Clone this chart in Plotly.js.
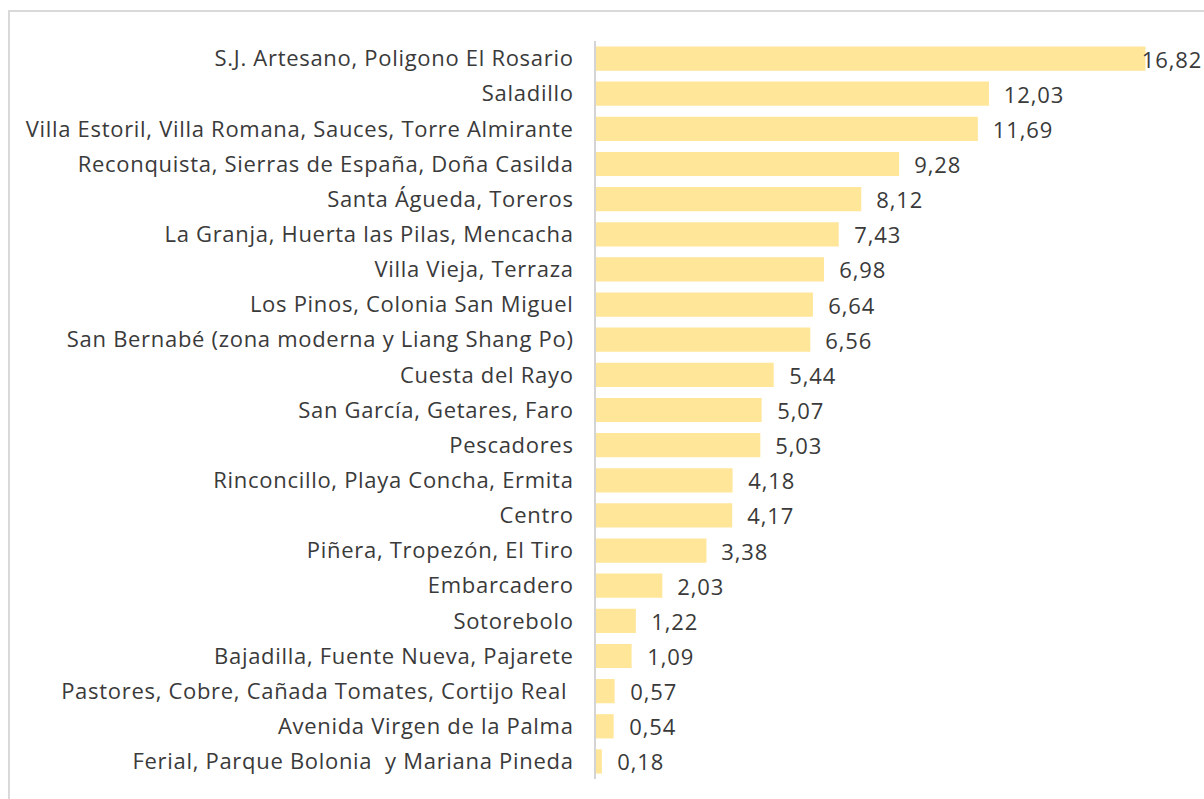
<!DOCTYPE html>
<html>
<head>
<meta charset="utf-8">
<script src="https://cdn.plot.ly/plotly-3.0.1.min.js"></script>
<style>
html,body{margin:0;padding:0;background:#fff;}
#chart{width:1204px;height:799px;position:absolute;left:0;top:0;}
#frame{position:absolute;left:8px;top:10px;width:1300px;height:900px;border:2px solid #d9d9d9;pointer-events:none;}
#chart .ytick text{letter-spacing:0.7px;}
#chart .annotation-text{letter-spacing:0.9px;}
</style>
</head>
<body>
<div id="chart"></div>
<div id="frame"></div>
<script>
const categories = [
  "S.J. Artesano, Poligono El Rosario",
  "Saladillo",
  "Villa Estoril, Villa Romana, Sauces, Torre Almirante",
  "Reconquista, Sierras de España, Doña Casilda",
  "Santa Águeda, Toreros",
  "La Granja, Huerta las Pilas, Mencacha",
  "Villa Vieja, Terraza",
  "Los Pinos, Colonia San Miguel",
  "San Bernabé (zona moderna y Liang Shang Po)",
  "Cuesta del Rayo",
  "San García, Getares, Faro",
  "Pescadores",
  "Rinconcillo, Playa Concha, Ermita",
  "Centro",
  "Piñera, Tropezón, El Tiro",
  "Embarcadero",
  "Sotorebolo",
  "Bajadilla, Fuente Nueva, Pajarete",
  "Pastores, Cobre, Cañada Tomates, Cortijo Real ",
  "Avenida Virgen de la Palma",
  "Ferial, Parque Bolonia  y Mariana Pineda"
];
const values = [16.82, 12.03, 11.69, 9.28, 8.12, 7.43, 6.98, 6.64, 6.56, 5.44, 5.07, 5.03, 4.18, 4.17, 3.38, 2.03, 1.22, 1.09, 0.57, 0.54, 0.18];
const valueLabels = ["16,82","12,03","11,69","9,28","8,12","7,43","6,98","6,64","6,56","5,44","5,07","5,03","4,18","4,17","3,38","2,03","1,22","1,09","0,57","0,54","0,18"];

const FONT = "'Open Sans', sans-serif";
const maxV = Math.max(...values);

const trace = {
  type: "bar",
  orientation: "h",
  x: values,
  y: categories,
  marker: {color: "#FFE699", line: {width: 0}},
  hoverinfo: "none"
};

const annotations = values.map((v, i) => ({
  x: v, y: categories[i], xref: "x", yref: "y",
  text: valueLabels[i], showarrow: false,
  xanchor: "left", yanchor: "middle",
  xshift: v === maxV ? -3 : 15,
  font: {family: FONT, size: 22, color: "#3a3a3a"}
}));

const layout = {
  width: 1204, height: 799,
  margin: {l: 596, r: 20, t: 41, b: 20, pad: 0},
  paper_bgcolor: "#ffffff",
  plot_bgcolor: "#ffffff",
  showlegend: false,
  bargap: 0.31,
  xaxis: {
    range: [0, 18], showgrid: false, zeroline: false, showline: false,
    showticklabels: false, ticks: "", fixedrange: true
  },
  yaxis: {
    autorange: "reversed", type: "category",
    showgrid: false, zeroline: false,
    showline: true, linecolor: "#d4d4d4", linewidth: 2,
    ticks: "", ticklabelstandoff: 16,
    tickfont: {family: FONT, size: 22, color: "#3a3a3a"},
    fixedrange: true
  },
  annotations: annotations
};

Plotly.newPlot("chart", [trace], layout, {displayModeBar: false, staticPlot: true});
</script>
</body>
</html>
